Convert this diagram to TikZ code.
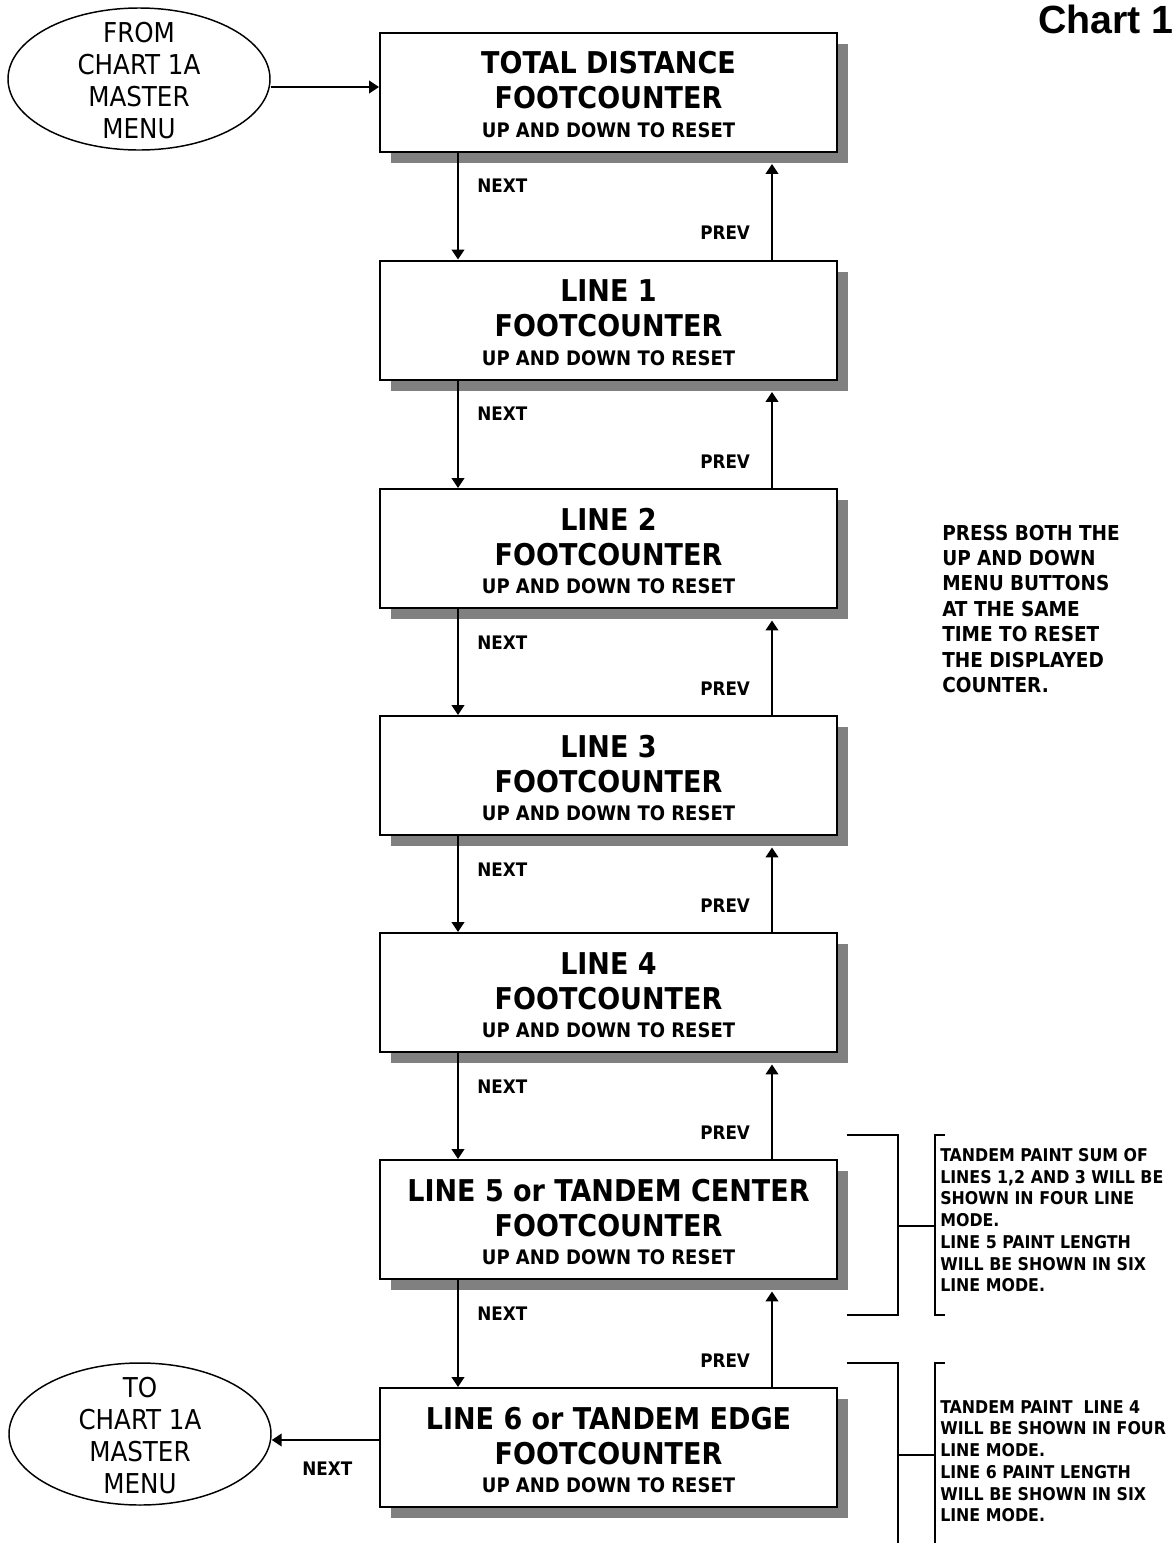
\documentclass[tikz,border=0pt]{standalone}
\usepackage{fontspec}
\IfFontExistsTF{DejaVu Sans Condensed}
  {\setmainfont{DejaVu Sans Condensed}}
  {\setmainfont{DejaVu Sans}[FakeStretch=0.88]}
\newfontfamily\chartfont{Liberation Sans}
\usetikzlibrary{shapes.geometric,shadows,arrows.meta}

\newcommand{\bigtxt}{\fontsize{22.5}{26.25}\selectfont}
\newcommand{\smalltxt}{\fontsize{15}{18}\selectfont}
\newcommand{\cnt}[1]{\rule{0pt}{20.5pt}#1\\FOOTCOUNTER\\[-5pt]{\smalltxt UP AND DOWN TO RESET}}
\newcommand{\menu}[1]{\rule{0pt}{18pt}#1\\CHART 1A\\MASTER\\MENU}

\tikzset{
  cbox/.style={draw, line width=1.5pt, fill=white, inner sep=0pt,
    minimum width=342.75pt, minimum height=89.25pt, align=center,
    font=\bfseries\bigtxt,
    drop shadow={shadow xshift=8.6pt, shadow yshift=-8.6pt, fill=black!50, opacity=1}},
  oval/.style={draw, ellipse, line width=1.1pt, inner xsep=0pt, inner ysep=-9pt,
    minimum width=196.5pt, minimum height=106.5pt, align=center,
    font=\fontsize{20.5}{24}\selectfont},
  lbl/.style={anchor=base west, inner sep=0pt, font=\bfseries\fontsize{14}{16}\selectfont},
  note/.style={anchor=north west, inner sep=0pt, align=left,
    font=\bfseries\fontsize{15.4}{19.1}\selectfont},
  smallnote/.style={note, font=\bfseries\fontsize{13.2}{16.3}\selectfont},
  arr/.style={line width=1.6pt, -{Triangle[length=7.5pt,width=9.5pt]}},
  brk/.style={line width=2pt},
}

\begin{document}
\begin{tikzpicture}[x=0.75pt, y=-0.75pt]
    \useasboundingbox (0,0) rectangle (1173,1543);

    % title
    \node[anchor=base west, inner sep=0pt, font=\chartfont\bfseries\fontsize{29.5}{32}\selectfont] (title) at (1038,33) {Chart 1};

    % counters
    \node[cbox] (tot) at (608.5,92) {\cnt{TOTAL DISTANCE}};
    \node[cbox] (l1) at (608.5,320) {\cnt{LINE 1}};
    \node[cbox] (l2) at (608.5,548.5) {\cnt{LINE 2}};
    \node[cbox] (l3) at (608.5,775.5) {\cnt{LINE 3}};
    \node[cbox] (l4) at (608.5,992.5) {\cnt{LINE 4}};
    \node[cbox] (l5) at (608.5,1219.5) {\cnt{LINE 5 or TANDEM CENTER}};
    \node[cbox] (l6) at (608.5,1447.5) {\cnt{LINE 6 or TANDEM EDGE}};

    % in and out
    \node[oval] (from) at (139,79) {\menu{FROM}};
    \node[oval] (to) at (140,1434) {\menu{TO}};
    \coordinate (ya) at (0,87); \coordinate (yb) at (0,1440);
    \draw[arr] (from.east |- ya) -- (tot.west |- ya);
    \draw[arr] (l6.west |- yb) -- (to.east |- yb);
    \node[lbl] (nxt7) at (302,1475) {NEXT};

    % next / prev
    \coordinate (nx) at (458,0); \coordinate (px) at (772,0);
    \coordinate (nl) at (477,0); \coordinate (pl) at (700,0);
    \foreach \a/\b [count=\i] in {tot/l1,l1/l2,l2/l3,l3/l4,l4/l5,l5/l6} {
        \draw[arr] (\a.south -| nx) -- (\b.north -| nx);
        \draw[arr, shorten >=8.6pt] (\b.north -| px) -- (\a.south -| px);
        \node[lbl, yshift=-30pt] (nxt\i) at (\a.south -| nl) {NEXT};
        \node[lbl, yshift=15pt] (prv\i) at (\b.north -| pl) {PREV};
    }

    % notes
    \node[note] (press) at (942,524.5) {PRESS BOTH THE\\UP AND DOWN\\MENU BUTTONS\\AT THE SAME\\TIME TO RESET\\THE DISPLAYED\\COUNTER.};

    \draw[brk] (847,1135) -- (898,1135) -- (898,1315) -- (847,1315);
    \draw[brk] (898,1226) -- (935,1226);
    \draw[brk] (945,1135) -- (935,1135) -- (935,1315) -- (945,1315);
    \node[smallnote] (tcen) at (940,1148) {TANDEM PAINT SUM OF\\LINES 1,2 AND 3 WILL BE\\SHOWN IN FOUR LINE\\MODE.\\LINE 5 PAINT LENGTH\\WILL BE SHOWN IN SIX\\LINE MODE.};

    \draw[brk] (847,1363) -- (898,1363) -- (898,1543);
    \draw[brk] (898,1455) -- (935,1455);
    \draw[brk] (945,1363) -- (935,1363) -- (935,1543);
    \node[smallnote] (tedg) at (940,1400) {TANDEM PAINT~ LINE 4\\WILL BE SHOWN IN FOUR\\LINE MODE.\\LINE 6 PAINT LENGTH\\WILL BE SHOWN IN SIX\\LINE MODE.};
\end{tikzpicture}
\end{document}
